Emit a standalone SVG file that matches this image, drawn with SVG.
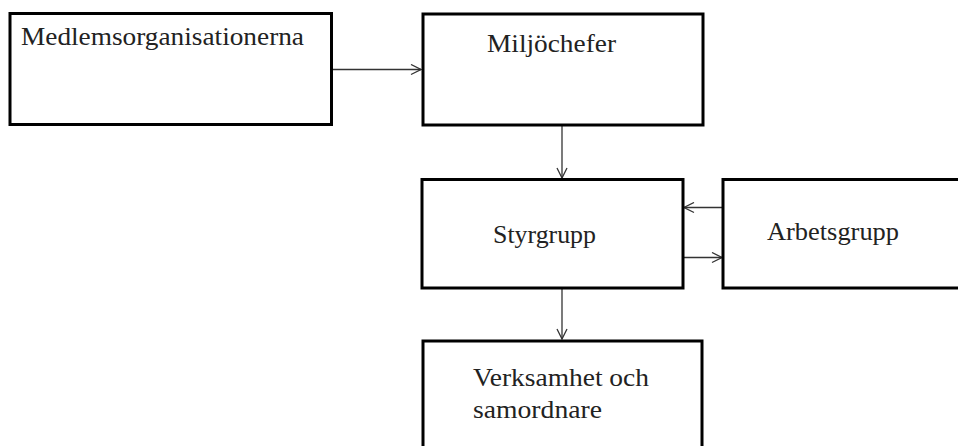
<svg xmlns="http://www.w3.org/2000/svg" width="958" height="446" viewBox="0 0 958 446">
<style>
.box{fill:#fff;stroke:#000;stroke-width:3}
.t{font-family:"Liberation Serif","Times New Roman",serif;font-size:25px;fill:#222}
.c{stroke:#333;stroke-width:1.3;fill:none}
</style>
<defs>
<marker id="ah" viewBox="0 0 12 12" refX="11" refY="6" markerWidth="12" markerHeight="12" markerUnits="userSpaceOnUse" orient="auto">
<path d="M1,1 L11,6 L1,11" fill="none" stroke="#333" stroke-width="1.3"/>
</marker>
</defs>
<rect width="958" height="446" fill="#fff"/>
<g id="connectors">
<line class="c" x1="332" y1="69.5" x2="421" y2="69.5" marker-end="url(#ah)"/>
<line class="c" x1="562" y1="125" x2="562" y2="178" marker-end="url(#ah)"/>
<line class="c" x1="723" y1="207.5" x2="684" y2="207.5" marker-end="url(#ah)"/>
<line class="c" x1="683" y1="257.5" x2="722" y2="257.5" marker-end="url(#ah)"/>
<line class="c" x1="562" y1="288" x2="562" y2="339" marker-end="url(#ah)"/>
</g>
<g id="medlemsorganisationerna">
<rect class="box" x="10" y="13.5" width="321.5" height="111"/>
<text class="t" x="21" y="45" textLength="283" lengthAdjust="spacingAndGlyphs">Medlemsorganisationerna</text>
</g>
<g id="miljochefer">
<rect class="box" x="423" y="14" width="280" height="111"/>
<text class="t" x="487" y="52" textLength="129" lengthAdjust="spacingAndGlyphs">Miljöchefer</text>
</g>
<g id="styrgrupp">
<rect class="box" x="422" y="179.5" width="261" height="108.5"/>
<text class="t" x="493" y="243" textLength="103" lengthAdjust="spacingAndGlyphs">Styrgrupp</text>
</g>
<g id="arbetsgrupp">
<rect class="box" x="723" y="179.5" width="250" height="108.5"/>
<text class="t" x="767" y="240" textLength="132" lengthAdjust="spacingAndGlyphs">Arbetsgrupp</text>
</g>
<g id="verksamhet">
<rect class="box" x="423" y="341" width="279" height="120"/>
<text class="t" x="473" y="386" textLength="176" lengthAdjust="spacingAndGlyphs">Verksamhet och</text>
<text class="t" x="473" y="418" textLength="129" lengthAdjust="spacingAndGlyphs">samordnare</text>
</g>
</svg>
